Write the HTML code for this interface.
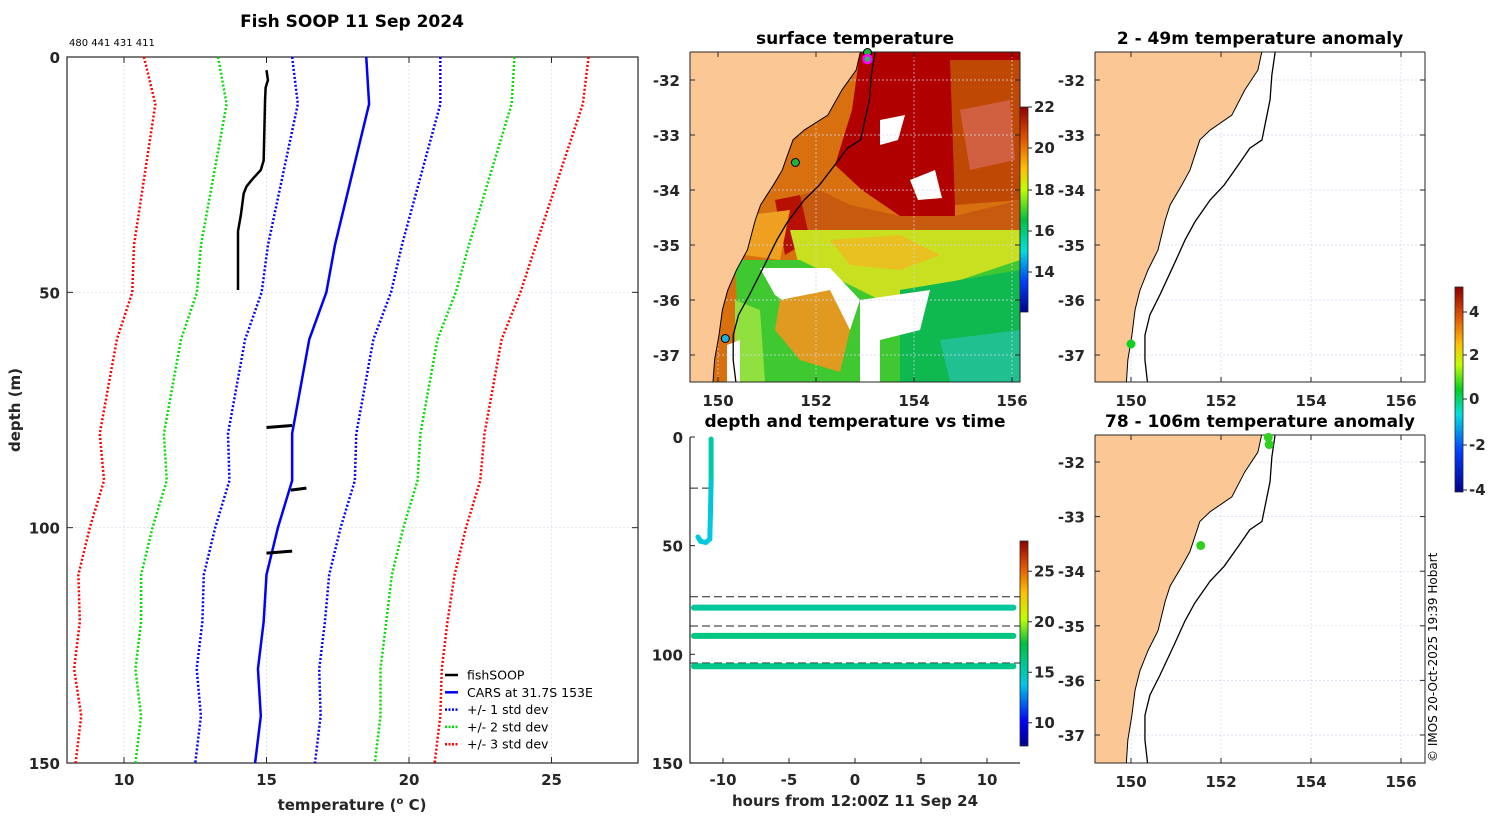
<!DOCTYPE html>
<html><head><meta charset="utf-8"><style>
body{margin:0;background:#fff;width:1500px;height:820px;overflow:hidden}
svg{font-family:"DejaVu Sans","Liberation Sans",sans-serif}
.t{font-weight:bold;font-size:15px;fill:#262626}
.ti{font-weight:bold;font-size:17px;fill:#000}
</style></head><body>
<svg id="s" width="1500" height="820" xmlns="http://www.w3.org/2000/svg">
<defs>
<linearGradient id="jet" x1="0" y1="1" x2="0" y2="0">
<stop offset="0" stop-color="#00008f"/><stop offset="0.12" stop-color="#0000ff"/><stop offset="0.3" stop-color="#00c8e8"/><stop offset="0.4" stop-color="#00c890"/><stop offset="0.5" stop-color="#00c040"/><stop offset="0.62" stop-color="#c0ff00"/><stop offset="0.75" stop-color="#ffc000"/><stop offset="0.88" stop-color="#e05000"/><stop offset="1" stop-color="#8f0000"/>
</linearGradient>
<linearGradient id="jet2" x1="0" y1="1" x2="0" y2="0">
<stop offset="0" stop-color="#00008f"/><stop offset="0.15" stop-color="#0040ff"/><stop offset="0.3" stop-color="#00e0e0"/><stop offset="0.45" stop-color="#00c040"/><stop offset="0.6" stop-color="#c0ff00"/><stop offset="0.7" stop-color="#ffc000"/><stop offset="0.85" stop-color="#e05000"/><stop offset="1" stop-color="#8f0000"/>
</linearGradient>
<linearGradient id="jet3" x1="0" y1="1" x2="0" y2="0">
<stop offset="0" stop-color="#00008f"/><stop offset="0.2" stop-color="#0040ff"/><stop offset="0.38" stop-color="#00e0e0"/><stop offset="0.5" stop-color="#00d020"/><stop offset="0.62" stop-color="#c0ff00"/><stop offset="0.72" stop-color="#ffc000"/><stop offset="0.86" stop-color="#e05000"/><stop offset="1" stop-color="#8f0000"/>
</linearGradient>
<clipPath id="cm1"><rect x="690" y="52" width="330" height="330"/></clipPath>
<clipPath id="cm2"><rect x="1095" y="52" width="330" height="330"/></clipPath>
<clipPath id="cm3"><rect x="1095" y="435" width="330" height="328"/></clipPath>
</defs>
<g id="main"></g>
<g id="maps"></g>
<g id="dt"></g>
</svg>
<script>
// ---- profile data ----
const depths=[0,10,20,30,40,50,60,70,80,90,100,110,120,130,140,150];
const carsMean=[18.5,18.6,18.2,17.8,17.4,17.1,16.5,16.2,15.9,15.9,15.4,15.0,14.9,14.7,14.8,14.6];
const carsStd=[2.6,2.5,2.45,2.4,2.35,2.27,2.25,2.25,2.25,2.2,2.2,2.2,2.15,2.15,2.1,2.1];
const fishDepth=[2.8,4.9,6.5,9,22,24,26,27.5,29,33.6,37,42,49.5];
const fishTemp=[15.0,15.05,14.97,14.95,14.9,14.8,14.5,14.3,14.2,14.1,14.0,14.0,14.0];
const blipDepth=[78.5,91.8,105.2];
const blipT0=[15.0,15.85,15.0];
const blipT1=[15.9,16.4,15.9];
const xTicks=[10,15,20,25];
const yTicks=[0,50,100,150];
// ---- time plot data ----
const tTrack=[-10.9,-10.9,-10.95,-11.0,-11.3,-11.7,-11.9];
const dTrack=[1,20,35,47,48.5,48,46];
const cTrack=[15.5,15.2,14.3,14.0,14.0,14.0,14.0];
const levDepth=[78.5,91.5,105.5];
const levTemp=[15.6,16.2,16.0];
const dashDepth=[73.5,87,104];
const hTicks=[-10,-5,0,5,10];
// ---- map data ----
const coast=[[152.93,-31.4],[152.82,-31.82],[152.53,-32.18],[152.24,-32.64],[151.76,-32.91],[151.53,-33.09],[151.31,-33.64],[151.13,-33.91],[150.87,-34.27],[150.76,-34.55],[150.6,-35.09],[150.38,-35.45],[150.2,-35.82],[150.09,-36.18],[150.02,-36.64],[149.93,-37.09],[149.89,-37.6]];
const isobath=[[153.22,-31.4],[153.13,-31.91],[153.09,-32.36],[152.91,-33.09],[152.64,-33.24],[152.38,-33.55],[152.07,-33.91],[151.76,-34.18],[151.42,-34.58],[151.2,-34.91],[150.98,-35.31],[150.64,-35.91],[150.42,-36.27],[150.31,-36.64],[150.31,-37.09],[150.38,-37.6]];
const lonTicks=[150,152,154,156];
const latTicks=[-32,-33,-34,-35,-36,-37];

const NS="http://www.w3.org/2000/svg";
function el(p,t,a,txt){const e=document.createElementNS(NS,t);for(const k in a)e.setAttribute(k,a[k]);if(txt!==undefined)e.textContent=txt;p.appendChild(e);return e;}
const main=document.getElementById('main');
const X=t=>67+(t-8)*28.5, Y=d=>57+d*4.7067;
for(const t of xTicks){const g=el(main,'line',{x1:X(t),x2:X(t),y1:57,y2:763,stroke:'#d4dcf0','stroke-width':0.7,'stroke-dasharray':'2,2'});}
for(const d of yTicks){const g=el(main,'line',{x1:67,x2:638,y1:Y(d),y2:Y(d),stroke:'#d4dcf0','stroke-width':0.7,'stroke-dasharray':'2,2'});}
const fr=el(main,'rect',{x:67,y:57,width:571,height:706,fill:'none',stroke:'#262626','stroke-width':1.2});

for(const t of xTicks){el(main,'line',{x1:X(t),x2:X(t),y1:763,y2:757,stroke:'#262626'});el(main,'line',{x1:X(t),x2:X(t),y1:57,y2:63,stroke:'#262626'});
const l=el(main,'text',{x:X(t),y:785,'text-anchor':'middle',class:'t'},t);}
for(const d of yTicks){el(main,'line',{x1:67,x2:73,y1:Y(d),y2:Y(d),stroke:'#262626'});el(main,'line',{x1:638,x2:632,y1:Y(d),y2:Y(d),stroke:'#262626'});
const l=el(main,'text',{x:60,y:Y(d)+6,'text-anchor':'end',class:'t'},d);}
let e=el(main,'text',{x:352,y:27,'text-anchor':'middle',class:'ti','font-size':'17.5px'},'Fish SOOP 11 Sep 2024');
e=el(main,'text',{x:69,y:46,'font-size':'10px',fill:'#000'},'480 441 431 411');
e=el(main,'text',{x:352,y:810,'text-anchor':'middle',class:'t','font-size':'16px'},'temperature (');
e.innerHTML='temperature (<tspan dy="-6" font-size="10">o</tspan><tspan dy="6"> C)</tspan>';
e=el(main,'text',{x:0,y:0,transform:'translate(20,410) rotate(-90)','text-anchor':'middle',class:'t','font-size':'16px'},'depth (m)');
const stdSty=[[-3,'#ff0000','std-minus-3'],[-2,'#00dd00','std-minus-2'],[-1,'#0000ff','std-minus-1'],[1,'#0000ff','std-plus-1'],[2,'#00dd00','std-plus-2'],[3,'#ff0000','std-plus-3']];
for(const [k,c,n] of stdSty){const pts=depths.map((d,i)=>X(carsMean[i]+k*carsStd[i])+','+Y(d)).join(' ');
const p=el(main,'polyline',{points:pts,fill:'none',stroke:c,'stroke-width':2.5,'stroke-dasharray':'2,2'});}
let p=el(main,'polyline',{points:depths.map((d,i)=>X(carsMean[i])+','+Y(d)).join(' '),fill:'none',stroke:'#0000ff','stroke-width':2.5});

p=el(main,'polyline',{points:fishDepth.map((d,i)=>X(fishTemp[i])+','+Y(d)).join(' '),fill:'none',stroke:'#000','stroke-width':2.5});

blipDepth.forEach((d,i)=>{const b=el(main,'line',{x1:X(blipT0[i]),x2:X(blipT1[i]),y1:Y(d)+1,y2:Y(d)-1,stroke:'#000','stroke-width':3});});
const leg=[['fishSOOP','#000',''],['CARS at 31.7S 153E','#0000ff',''],['+/- 1 std dev','#0000ff','2,1.5'],['+/- 2 std dev','#00dd00','2,1.5'],['+/- 3 std dev','#ff0000','2,1.5']];
const lg=el(main,'g',{});
leg.forEach((L,i)=>{const y=675+i*17.3;const g=el(lg,'g',{});
el(g,'line',{x1:445,x2:458,y1:y,y2:y,stroke:L[1],'stroke-width':2.5,'stroke-dasharray':L[2]||'none'});el(g,'text',{x:467,y:y+4.5,'font-size':'12.5px',fill:'#000'},L[0]);});

// ---- time plot ----
const dt=document.getElementById('dt');
const TX=h=>855+h*13.2, TY=d=>437+d*2.173;
function jet(v,lo,hi){const s=Math.max(0,Math.min(1,(v-lo)/(hi-lo)));const st=[[0,[0,0,143]],[0.12,[0,0,255]],[0.3,[0,200,232]],[0.4,[0,200,144]],[0.5,[0,192,64]],[0.62,[192,255,0]],[0.75,[255,192,0]],[0.88,[224,80,0]],[1,[143,0,0]]];
for(let i=1;i<st.length;i++)if(s<=st[i][0]){const f=(s-st[i-1][0])/(st[i][0]-st[i-1][0]);const c=st[i-1][1].map((a,j)=>Math.round(a+(st[i][1][j]-a)*f));return 'rgb('+c+')';}return 'rgb(143,0,0)';}
e=el(dt,'text',{x:855,y:427,'text-anchor':'middle',class:'ti'},'depth and temperature vs time');
e=el(dt,'text',{x:855,y:806,'text-anchor':'middle',class:'t','font-size':'16px'},'hours from 12:00Z 11 Sep 24');
e=el(dt,'polyline',{points:'690,437 690,763 1020,763',fill:'none',stroke:'#262626','stroke-width':1.2});
for(const h of hTicks){el(dt,'line',{x1:TX(h),x2:TX(h),y1:763,y2:758,stroke:'#262626'});const l=el(dt,'text',{x:TX(h),y:785,'text-anchor':'middle',class:'t'},h);}
for(const d of yTicks){el(dt,'line',{x1:690,x2:695,y1:TY(d),y2:TY(d),stroke:'#262626'});const l=el(dt,'text',{x:683,y:TY(d)+6,'text-anchor':'end',class:'t'},d);}
e=el(dt,'line',{x1:690,x2:712,y1:TY(23.5),y2:TY(23.5),stroke:'#222','stroke-dasharray':'8,4'});
for(const d of dashDepth){const l=el(dt,'line',{x1:690,x2:1020,y1:TY(d),y2:TY(d),stroke:'#222','stroke-dasharray':'8,4'});}
for(let i=1;i<tTrack.length;i++){const s=el(dt,'line',{x1:TX(tTrack[i-1]),y1:TY(dTrack[i-1]),x2:TX(tTrack[i]),y2:TY(dTrack[i]),stroke:jet(cTrack[i],7.7,28),'stroke-width':5,'stroke-linecap':'round'});}
levDepth.forEach((d,i)=>{const s=el(dt,'line',{x1:TX(-12.2),x2:TX(12),y1:TY(d),y2:TY(d),stroke:jet(levTemp[i],7.7,28),'stroke-width':6,'stroke-linecap':'round'});});
e=el(dt,'rect',{x:1020,y:541,width:8,height:205,fill:'url(#jet)',stroke:'#262626','stroke-width':0.8});
for(const v of [10,15,20,25]){const y=746-(v-7.7)*10.1;el(dt,'line',{x1:1028,x2:1032,y1:y,y2:y,stroke:'#262626'});const l=el(dt,'text',{x:1034,y:y+5,class:'t','font-size':'14px'},v);}

// ---- maps ----
const maps=document.getElementById('maps');
function mapFrame(x0,y0,w,h,lx,ly0,sx,sy,title,clip,name,sst){
 const LX=l=>lx+(l-150)*sx, LY=a=>ly0+(-32-a)*sy;
 const g=el(maps,'g',{});
 const c=el(g,'g',{'clip-path':'url(#'+clip+')'});
 el(c,'rect',{x:x0,y:y0,width:w,height:h,fill:'#fff'});
 if(sst)sst(c);
 for(const l of lonTicks)el(c,'line',{x1:LX(l),x2:LX(l),y1:y0,y2:y0+h,stroke:'#d0d8f0','stroke-width':0.7,'stroke-dasharray':'2,2'});
 for(const a of latTicks)el(c,'line',{x1:x0,x2:x0+w,y1:LY(a),y2:LY(a),stroke:'#d0d8f0','stroke-width':0.7,'stroke-dasharray':'2,2'});
 const land='M'+x0+','+(y0-5)+' L'+coast.map(p=>LX(p[0])+','+LY(p[1])).join(' L')+' L'+x0+','+(y0+h+5)+'Z';
 const ld=el(c,'path',{d:land,fill:'#fbc895',stroke:'#000','stroke-width':1});
 const ib=el(c,'polyline',{points:isobath.map(p=>LX(p[0])+','+LY(p[1])).join(' '),fill:'none',stroke:'#000','stroke-width':1.3});
 el(g,'polyline',{points:x0+','+y0+' '+x0+','+(y0+h)+' '+(x0+w)+','+(y0+h)+' '+(x0+w)+','+y0,fill:'none',stroke:'#262626','stroke-width':1});
 el(g,'line',{x1:x0,x2:x0+w,y1:y0,y2:y0,stroke:'#262626','stroke-width':1});
 for(const l of lonTicks){el(g,'line',{x1:LX(l),x2:LX(l),y1:y0+h,y2:y0+h-5,stroke:'#262626'});el(g,'line',{x1:LX(l),x2:LX(l),y1:y0,y2:y0+5,stroke:'#262626'});const t=el(g,'text',{x:LX(l),y:y0+h+24,'text-anchor':'middle',class:'t'},l);}
 for(const a of latTicks){el(g,'line',{x1:x0,x2:x0+5,y1:LY(a),y2:LY(a),stroke:'#262626'});el(g,'line',{x1:x0+w,x2:x0+w-5,y1:LY(a),y2:LY(a),stroke:'#262626'});const t=el(g,'text',{x:x0-10,y:LY(a)+6,'text-anchor':'end',class:'t'},a);}
 const t=el(g,'text',{x:x0+w/2,y:y0-8,'text-anchor':'middle',class:'ti'},title);
 return {g,LX,LY};
}
function sstField(c){
 const P=(pts,f)=>{const q=el(c,'polygon',{points:pts,fill:f});};
 P('690,52 1020,52 1020,382 690,382','#d87010');
 P('860,52 1020,52 1020,200 955,200 955,216 900,216 862,190 835,165 852,110','#b00000');
 P('950,60 1020,60 1020,200 955,205','#c04805');
 P('780,200 820,190 850,205 900,216 955,216 1020,200 1020,240 900,250 850,240 800,255','#c85a10');
 P('775,200 800,195 810,240 785,255','#b51000');
 P('790,230 1020,230 1020,265 960,280 880,300 840,290 800,270','#c8e020');
 P('830,240 900,235 940,255 900,270 850,265','#e8c020');
 P('735,260 800,260 880,300 960,280 1020,260 1020,382 740,382','#40c830');
 P('900,290 1020,270 1020,382 900,382','#10b850');
 P('940,340 1020,330 1020,382 950,382','#20c090');
 P('760,268 830,268 860,300 850,330 810,320 775,295','#ffffff');
 P('860,300 930,290 920,330 880,340 880,382 860,382','#ffffff');
 P('780,300 830,290 850,330 840,372 800,360 775,330','#e09a20');
 P('735,300 760,310 765,382 735,382','#90e040');
 P('727,345 740,340 740,382 727,382','#ffffff');
 P('880,120 905,115 898,140 880,145','#ffffff');
 P('910,180 935,170 942,198 918,200','#ffffff');
 P('960,110 1010,100 1015,160 970,170','#d06040');
 P('750,215 790,210 780,260 745,255','#f0a020');
}
const m1=mapFrame(690,52,330,330,718,80,49,55,'surface temperature','cm1','sst-map',sstField);
[[153.05,-31.5,'#20b040','#000'],[153.05,-31.62,'#20c060','#ff00ff'],[151.58,-33.5,'#20b040','#000'],[150.15,-36.7,'#20b0e0','#000']].forEach(d=>{const q=el(m1.g,'circle',{cx:m1.LX(d[0]),cy:m1.LY(d[1]),r:4,fill:d[2],stroke:d[3],'stroke-width':d[3]=='#000'?1:2.5});});
e=el(m1.g,'rect',{x:1020,y:107,width:8,height:205,fill:'url(#jet2)',stroke:'#262626','stroke-width':0.8});
[[22,107],[20,148],[18,190],[16,231],[14,272]].forEach(([v,y])=>{el(m1.g,'line',{x1:1028,x2:1032,y1:y,y2:y,stroke:'#262626'});const l=el(m1.g,'text',{x:1034,y:y+5,class:'t','font-size':'14px'},v);});
const m2=mapFrame(1095,52,330,330,1131,80,45,55,'2 - 49m temperature anomaly','cm2','anomaly-map-shallow');
e=el(m2.g,'circle',{cx:m2.LX(150),cy:m2.LY(-36.8),r:4.5,fill:'#10d020'});
const m3=mapFrame(1095,435,330,328,1131,462,45,54.6,'78 - 106m temperature anomaly','cm3','anomaly-map-deep');
[[153.05,-31.55],[153.07,-31.68],[151.55,-33.53]].forEach(d=>{const q=el(m3.g,'circle',{cx:m3.LX(d[0]),cy:m3.LY(d[1]),r:4.5,fill:'#30d020'});});
e=el(maps,'rect',{x:1455,y:287,width:8,height:205,fill:'url(#jet3)',stroke:'#262626','stroke-width':0.8});
[[4,312],[2,355],[0,399],[-2,445],[-4,490]].forEach(([v,y])=>{el(maps,'line',{x1:1463,x2:1467,y1:y,y2:y,stroke:'#262626'});const l=el(maps,'text',{x:1469,y:y+5,class:'t','font-size':'12px'},v);});
e=el(maps,'text',{x:0,y:0,transform:'translate(1437,762) rotate(-90)','font-size':'12px',fill:'#000'},'© IMOS 20-Oct-2025 19:39 Hobart');
</script>
</body></html>
